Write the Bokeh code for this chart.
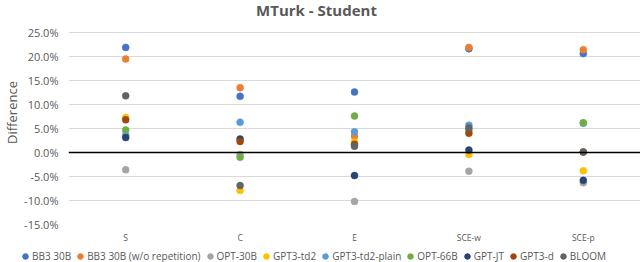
from bokeh.plotting import figure
from bokeh.layouts import column
from bokeh.models import (Range1d, FactorRange, Span, Label, PrintfTickFormatter,
                          FixedTicker, ColumnDataSource, Legend, LegendItem)
from bokeh.embed import file_html
from bokeh.resources import INLINE

categories = ["S", "C", "E", "SCE-w", "SCE-p"]
series_names = ["BB3 30B", "BB3 30B (w/o repetition)", "OPT-30B", "GPT3-td2",
                "GPT3-td2-plain", "OPT-66B", "GPT-JT", "GPT3-d", "BLOOM"]
bb3_30b = [21.9, 11.7, 12.6, 21.6, 20.6]
bb3_30b_norep = [19.5, 13.5, 3.4, 21.9, 21.4]
opt_30b = [-3.6, -0.4, -10.2, -3.9, -6.3]
gpt3_td2 = [7.3, -7.9, 2.2, -0.4, -3.8]
gpt3_td2_plain = [3.6, 6.3, 4.3, 5.7, 6.1]
opt_66b = [4.7, -1.0, 7.6, 4.6, 6.2]
gpt_jt = [3.1, 2.8, -4.8, 0.5, -5.8]
gpt3_d = [6.8, 2.3, 1.7, 4.0, 0.1]
bloom = [11.8, -6.9, 1.3, 5.1, 0.1]
y_tick_values = [-15, -10, -5, 0, 5, 10, 15, 20, 25]

series_values = [bb3_30b, bb3_30b_norep, opt_30b, gpt3_td2, gpt3_td2_plain,
                 opt_66b, gpt_jt, gpt3_d, bloom]
colors = ["#4472C4", "#ED7D31", "#A5A5A5", "#FFC000", "#5B9BD5",
          "#70AD47", "#264478", "#9E480E", "#636363"]

FONT = "Open Sans"
GRAY = "#595959"

# main chart: frame starts at the canvas top, range top leaves room for the title
p = figure(width=640, height=248, x_range=FactorRange(*categories, range_padding=0),
           y_range=Range1d(-15, -15 + 224 / 4.8), output_backend="svg", toolbar_location=None,
           min_border_left=68, min_border_right=0, min_border_top=0, min_border_bottom=24)
p.outline_line_color = None
p.background_fill_color = "white"
p.border_fill_color = "white"

for name, vals, col in zip(series_names, series_values, colors):
    src = ColumnDataSource(dict(x=categories, y=vals))
    p.scatter("x", "y", source=src, size=7, fill_color=col, line_color=col, line_width=0.5)

p.add_layout(Span(location=0, dimension="width", line_color="black", line_width=1.6))

p.yaxis.ticker = FixedTicker(ticks=y_tick_values)
p.yaxis.formatter = PrintfTickFormatter(format="%.1f%%")
p.ygrid.ticker = FixedTicker(ticks=y_tick_values)
p.ygrid.grid_line_color = "#d9d9d9"
p.xgrid.grid_line_color = None

for ax in (p.xaxis, p.yaxis):
    ax.axis_line_color = None
    ax.major_tick_line_color = None
    ax.minor_tick_line_color = None
    ax.major_tick_out = 0
    ax.major_tick_in = 0
    ax.major_label_text_color = GRAY
    ax.major_label_text_font = FONT

p.yaxis.major_label_text_font_size = "11px"
p.yaxis.major_label_standoff = 10
p.yaxis.axis_label = "Difference"
p.yaxis.axis_label_standoff = 0
p.yaxis.axis_label_text_font = FONT
p.yaxis.axis_label_text_font_size = "13px"
p.yaxis.axis_label_text_font_style = "normal"
p.yaxis.axis_label_text_color = GRAY
p.xaxis.major_label_text_font_size = "8.5px"
p.xaxis.major_label_standoff = 7

p.add_layout(Label(x=248, y=225, x_units="screen", y_units="screen", text="MTurk - Student",
                   text_font=FONT, text_font_size="15px", text_font_style="bold",
                   text_color=GRAY, text_align="center", text_baseline="top"))

# legend strip below the chart (same series drawn outside its visible range)
pl = figure(width=640, height=14, output_backend="svg", toolbar_location=None,
            x_axis_type=None, y_axis_type=None, min_border=0,
            x_range=FactorRange(*categories), y_range=Range1d(100, 101))
pl.outline_line_color = None
pl.grid.visible = False
for fig in (p, pl):
    try:
        fig.frame_align = False
    except Exception:
        pass
items = []
for name, vals, col in zip(series_names, series_values, colors):
    r = pl.scatter(x=categories, y=vals, size=7, fill_color=col, line_color=col)
    items.append(LegendItem(label=name, renderers=[r]))
lg = Legend(items=items, orientation="horizontal", location=(18, -1), padding=0, margin=0,
            spacing=2, glyph_width=14, glyph_height=14, label_height=14, label_standoff=0,
            label_text_font=FONT, label_text_font_size="10px", label_text_color=GRAY,
            border_line_color=None, background_fill_alpha=0)
pl.add_layout(lg)

layout = column(p, pl, spacing=0)
open("out.html", "w").write(file_html(layout, INLINE))
